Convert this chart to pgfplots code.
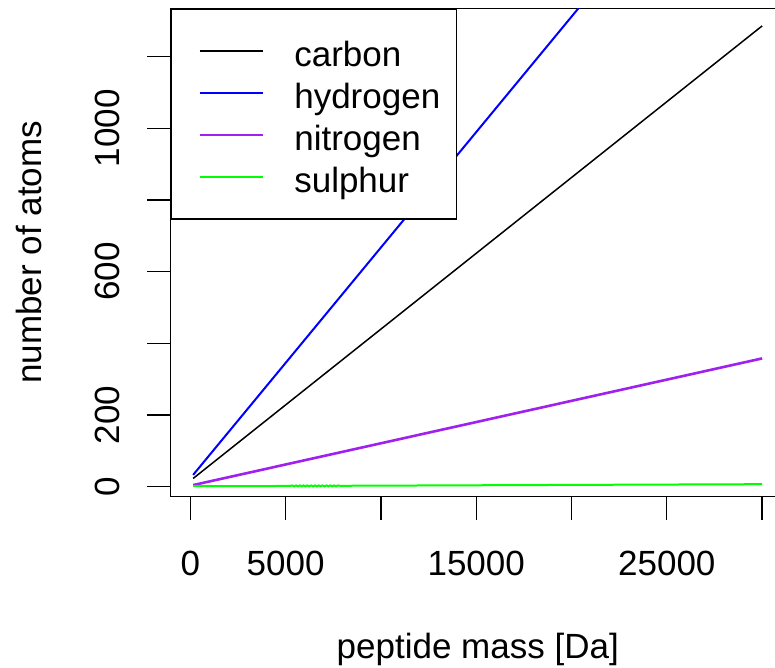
\documentclass[border=0pt]{standalone}
\usepackage{fontspec}
\setmainfont{Liberation Sans}
\usepackage{pgfplots}
\pgfplotsset{compat=1.18}
\definecolor{Rpurple}{HTML}{A020F0}
\definecolor{Rgreen}{HTML}{00FF00}
\definecolor{Rblue}{HTML}{0000FF}
\newcommand{\bigfont}{\fontsize{35}{42}\selectfont}
\begin{document}
\begin{tikzpicture}
\useasboundingbox (0pt,0pt) rectangle (775pt,-668pt);
\begin{axis}[
  at={(170.5pt,-496.5pt)}, anchor=south west,
  scale only axis, width=614.5pt, height=488.2pt,
  xmin=-1039, xmax=31201, ymin=-27.4, ymax=1335.2,
  xtick={0,5000,15000,25000},
  extra x ticks={10000,20000,30000}, extra x tick labels={},
  ytick={0,200,600,1000},
  extra y ticks={400,800,1200}, extra y tick labels={},
  scaled x ticks=false, scaled y ticks=false,
  /pgf/number format/assume math mode=true,
  /pgf/number format/1000 sep={},
  tick align=outside, major tick length=23pt,
  xtick pos=left, ytick pos=left,
  axis line style={draw=black, line width=1.4pt},
  tick style={draw=black, line width=1.3pt},
  major tick style={draw=black, line width=1.3pt},
  extra tick style={major tick length=23pt, tick style={draw=black, line width=1.3pt}},
  tick label style={font=\bigfont, inner sep=0pt},
  xticklabel style={anchor=base, yshift=-56.2pt},
  yticklabel style={xshift=-28pt, rotate=90, anchor=base},
  xlabel={peptide mass [Da]},
  ylabel={number of atoms},
  label style={font=\bigfont, inner sep=0pt},
  xlabel style={at={(axis description cs:0.5,-0.3314)}, anchor=base},
  ylabel style={at={(axis description cs:-0.2096,0.5)}, rotate=0, anchor=base},
  legend cell align=left,
  legend image code/.code={\path (0pt,0pt); \draw[#1] (11pt,0pt) -- (74.5pt,0pt);},
  legend style={at={(0,1)}, anchor=north west, draw=black, line width=1.4pt,
    fill=white, font=\bigfont, inner xsep=16pt, inner ysep=21pt,
    row sep=0pt, column sep=30pt,
    nodes={inner sep=0pt, minimum height=42pt, text height=30pt, text depth=0pt}},
]
\addplot[black, line width=1.5pt] coordinates {(150,23) (30000,1286)};
\addlegendentry{carbon}
\addplot[Rblue, line width=2pt] coordinates {(150,33) (30000,1956)};
\addlegendentry{hydrogen}
\addplot[Rpurple, line width=2.6pt] coordinates {(150,4.5) (30000,358)};
\addlegendentry{nitrogen}
\addplot[Rgreen, line width=2pt] coordinates {
  (150,1.5) (5240,2) (5340,3.5) (5440,1) (5540,3.5) (5640,1) (5740,3.5) (5840,1)
  (5940,3.5) (6040,1) (6140,3.5) (6240,1) (6340,3.5) (6440,1) (6540,3.5) (6640,1)
  (6740,3.5) (6840,1) (6940,3.5) (7040,1) (7140,3.5) (7240,1) (7340,3.5) (7440,1)
  (7540,3.5) (7640,1) (7740,3.5) (7860,2.5) (30000,7)};
\addlegendentry{sulphur}
\end{axis}
\end{tikzpicture}
\end{document}
